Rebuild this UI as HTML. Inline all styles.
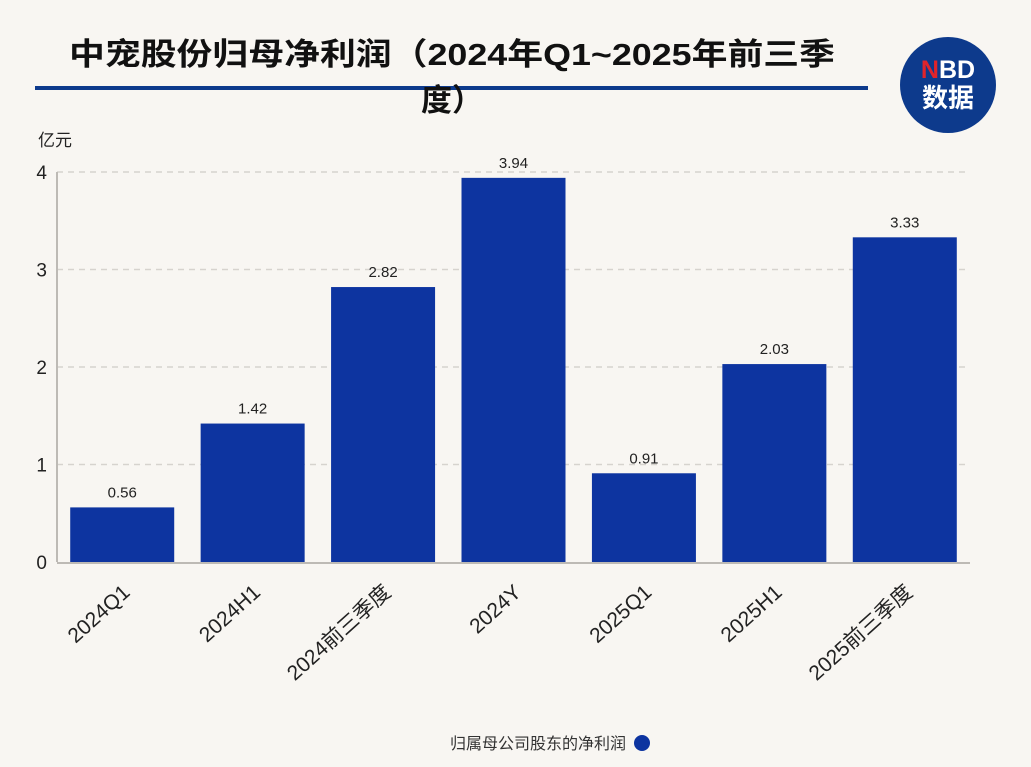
<!DOCTYPE html>
<html><head><meta charset="utf-8"><style>
body{margin:0;background:#f8f6f2;}
#wrap{position:relative;width:1031px;height:767px;overflow:hidden;background:#f8f6f2;font-family:"Liberation Sans","Noto Sans CJK SC",sans-serif;}
svg text{font-family:"Liberation Sans","Noto Sans CJK SC",sans-serif;}
</style></head><body>
<div id="wrap">
<svg id="chart" width="1031" height="767">
  <text x="452" y="65" font-size="31" font-weight="bold" fill="#111" text-anchor="middle" textLength="766" lengthAdjust="spacingAndGlyphs">中宠股份归母净利润（2024年Q1~2025年前三季</text>
  <rect x="35" y="86" width="833" height="4" fill="#0d3a8c"/>
  <text x="452" y="111" font-size="31" font-weight="bold" fill="#111" text-anchor="middle">度）</text>
  <g>
    <circle cx="948" cy="85" r="48" fill="#0d3a8c"/>
    <text x="948" y="78" font-size="25" font-weight="bold" fill="#fff" text-anchor="middle"><tspan fill="#e0242b">N</tspan>BD</text>
    <text x="948" y="107" font-size="26" font-weight="bold" fill="#fff" text-anchor="middle">数据</text>
  </g>
  <text x="38" y="146" font-size="17" fill="#222">亿元</text>
  <g id="grid"></g><g id="bars"></g><g id="labels"></g>
  <g>
    <text x="626" y="749" font-size="16" fill="#333" text-anchor="end">归属母公司股东的净利润</text>
    <circle cx="642" cy="743" r="8" fill="#0d34a0"/>
  </g>
</svg>
</div>
<script>
const categories=["2024Q1","2024H1","2024前三季度","2024Y","2025Q1","2025H1","2025前三季度"];
const values=[0.56,1.42,2.82,3.94,0.91,2.03,3.33];
const yTicks=[0,1,2,3,4];
const valueLabels=["0.56","1.42","2.82","3.94","0.91","2.03","3.33"];
const NS="http://www.w3.org/2000/svg";
const x0=57,x1=970,y0=562,yTop=172,yMax=4;
const band=(x1-x0)/categories.length;
const y=v=>y0-(v/yMax)*(y0-yTop);
const xc=i=>x0+band*(i+0.5);
function mk(tag,attrs,parent,text){const e=document.createElementNS(NS,tag);for(const k in attrs)e.setAttribute(k,attrs[k]);if(text!==undefined)e.textContent=text;parent.appendChild(e);return e;}
const grid=document.getElementById('grid'),bars=document.getElementById('bars'),labels=document.getElementById('labels');
yTicks.forEach(t=>{
  if(t>0){const l=mk('line',{x1:x0,x2:x1,y1:y(t),y2:y(t),stroke:'#d6d3ce','stroke-width':1.5,'stroke-dasharray':'6,5'},grid);
  
  }
  const tx=mk('text',{x:47,y:y(t)+7,'font-size':19,fill:'#222','text-anchor':'end'},grid,String(t));
  
  
});
const ax=mk('line',{x1:x0,x2:x0,y1:yTop,y2:y0,stroke:'#bdbab5','stroke-width':2},grid);


const bx=mk('line',{x1:x0,x2:x1,y1:y0+1,y2:y0+1,stroke:'#bdbab5','stroke-width':2},grid);


const bw=104;
values.forEach((v,i)=>{
  const r=mk('rect',{x:xc(i)-bw/2,y:y(v),width:bw,height:y0-y(v),fill:'#0d34a0'},bars);
  
  
  const t=mk('text',{x:xc(i),y:y(v)-10,'font-size':15,fill:'#222','text-anchor':'middle'},labels,valueLabels[i]);
  
  
  const c=mk('text',{x:xc(i)+9,y:y0+32,'font-size':21,fill:'#222','text-anchor':'end',transform:`rotate(-42 ${xc(i)+9} ${y0+32})`},labels,categories[i]);
  
  
});
</script>
</body></html>
